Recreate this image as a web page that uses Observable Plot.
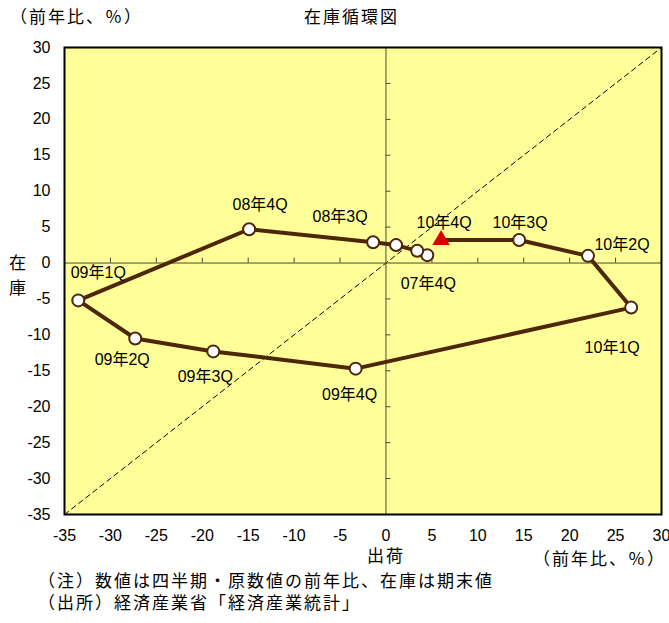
<!DOCTYPE html>
<html>
<head>
<meta charset="utf-8">
<script src="https://cdn.jsdelivr.net/npm/d3@7"></script>
<script src="https://cdn.jsdelivr.net/npm/@observablehq/plot@0.6"></script>
<style>
  html, body { margin: 0; padding: 0; background: #fff; }
  #wrap { position: relative; width: 669px; height: 623px; overflow: hidden;
          font-family: "Liberation Sans", "Noto Sans CJK JP", sans-serif; color: #000; }
  #wrap svg { position: absolute; left: 0; top: 0; }
  .t { position: absolute; white-space: nowrap; font-size: 17px; letter-spacing: 2px; line-height: 1; }
</style>
</head>
<body>
<div id="wrap">
  <div class="t" style="left:10px; top:9px;">（前年比、％）</div>
  <div class="t" style="left:304px; top:9px;">在庫循環図</div>
  <div class="t" style="left:9px; top:255px;">在</div>
  <div class="t" style="left:9px; top:280px;">庫</div>
  <div class="t" style="left:367px; top:548px;">出荷</div>
  <div class="t" style="left:533px; top:551px;">（前年比、％）</div>
  <div class="t" style="left:38px; top:573px;">（注）数値は四半期・原数値の前年比、在庫は期末値</div>
  <div class="t" style="left:38px; top:595px;">（出所）経済産業省「経済産業統計」</div>
</div>
<script>
// ---- data ----
const quarters   = ["07年4Q","08年1Q","08年2Q","08年3Q","08年4Q","09年1Q","09年2Q","09年3Q","09年4Q","10年1Q","10年2Q","10年3Q","10年4Q"];
const shipments  = [4.5, 3.4, 1.1, -1.4, -14.9, -33.5, -27.3, -18.8, -3.3, 26.7, 22.0, 14.5, 6.0];
const inventory  = [1.1, 1.7, 2.5, 2.9, 4.7, -5.2, -10.5, -12.3, -14.7, -6.2, 1.0, 3.2, 3.2];
const xDomain = [-35, 30];
const yDomain = [-35, 30];
const axisTicks = [-35,-30,-25,-20,-15,-10,-5,0,5,10,15,20,25,30];
const innerTicks = [-30,-25,-20,-15,-10,-5,5,10,15,20,25];
const shownLabels = ["07年4Q","08年3Q","08年4Q","09年1Q","09年2Q","09年3Q","09年4Q","10年1Q","10年2Q","10年3Q","10年4Q"];

// ---- label placement (style, pixels) ----
const labelOffset = {
  "07年4Q": [1, 29], "08年3Q": [-33, -25], "08年4Q": [11, -24], "09年1Q": [20, -28],
  "09年2Q": [-13, 21], "09年3Q": [-8, 25], "09年4Q": [-6, 26], "10年1Q": [-19, 40],
  "10年2Q": [34, -11], "10年3Q": [1, -17], "10年4Q": [3, -17]
};

const rows = quarters.map((q, i) => ({q, x: shipments[i], y: inventory[i]}));
const circles = rows.slice(0, -1);
const last = rows.slice(-1);
const brown = "#4e2608";

const labelMarks = shownLabels.map(q => {
  const r = rows.find(d => d.q === q);
  const [dx, dy] = labelOffset[q];
  return Plot.text([r], {x: "x", y: "y", text: "q", dx, dy, fontSize: 16, fill: "#000"});
});

const chart = Plot.plot({
  width: 669,
  height: 623,
  marginLeft: 64,
  marginRight: 8,
  marginTop: 47,
  marginBottom: 109,
  x: {domain: xDomain},
  y: {domain: yDomain},
  style: {fontFamily: "'Liberation Sans', 'Noto Sans CJK JP', sans-serif", fontSize: "16px", background: "transparent", color: "#000"},
  marks: [
    Plot.frame({fill: "#ffff99", stroke: null}),
    Plot.line(xDomain, {x: d => d, y: d => d, stroke: "#000", strokeWidth: 1, strokeDasharray: "5,4"}),
    Plot.ruleX([0], {stroke: "#4a4a3a", strokeWidth: 1}),
    Plot.ruleY([0], {stroke: "#4a4a3a", strokeWidth: 1}),
    Plot.ruleX(innerTicks, {x: d => d, y1: 0, y2: 0.7, stroke: "#4a4a3a", strokeWidth: 1}),
    Plot.ruleY(innerTicks, {y: d => d, x1: 0, x2: 0.55, stroke: "#4a4a3a", strokeWidth: 1}),
    Plot.line(rows, {x: "x", y: "y", stroke: brown, strokeWidth: 4, strokeLinejoin: "round"}),
    Plot.dot(circles, {x: "x", y: "y", r: 6, fill: "#fff", stroke: brown, strokeWidth: 2}),
    Plot.dot(last, {x: "x", y: "y", r: 6.5, symbol: "triangle", fill: "#dd0000", stroke: null}),
    ...labelMarks,
    Plot.axisX(axisTicks, {tickSize: 0, tickPadding: 15, tickFormat: d => String(d), fontSize: 16, label: null}),
    Plot.axisY(axisTicks, {tickSize: 0, tickPadding: 14, tickFormat: d => String(d), fontSize: 16, label: null}),
    Plot.frame({stroke: "#000", strokeWidth: 2})
  ]
});
document.getElementById("wrap").prepend(chart);
</script>
</body>
</html>
